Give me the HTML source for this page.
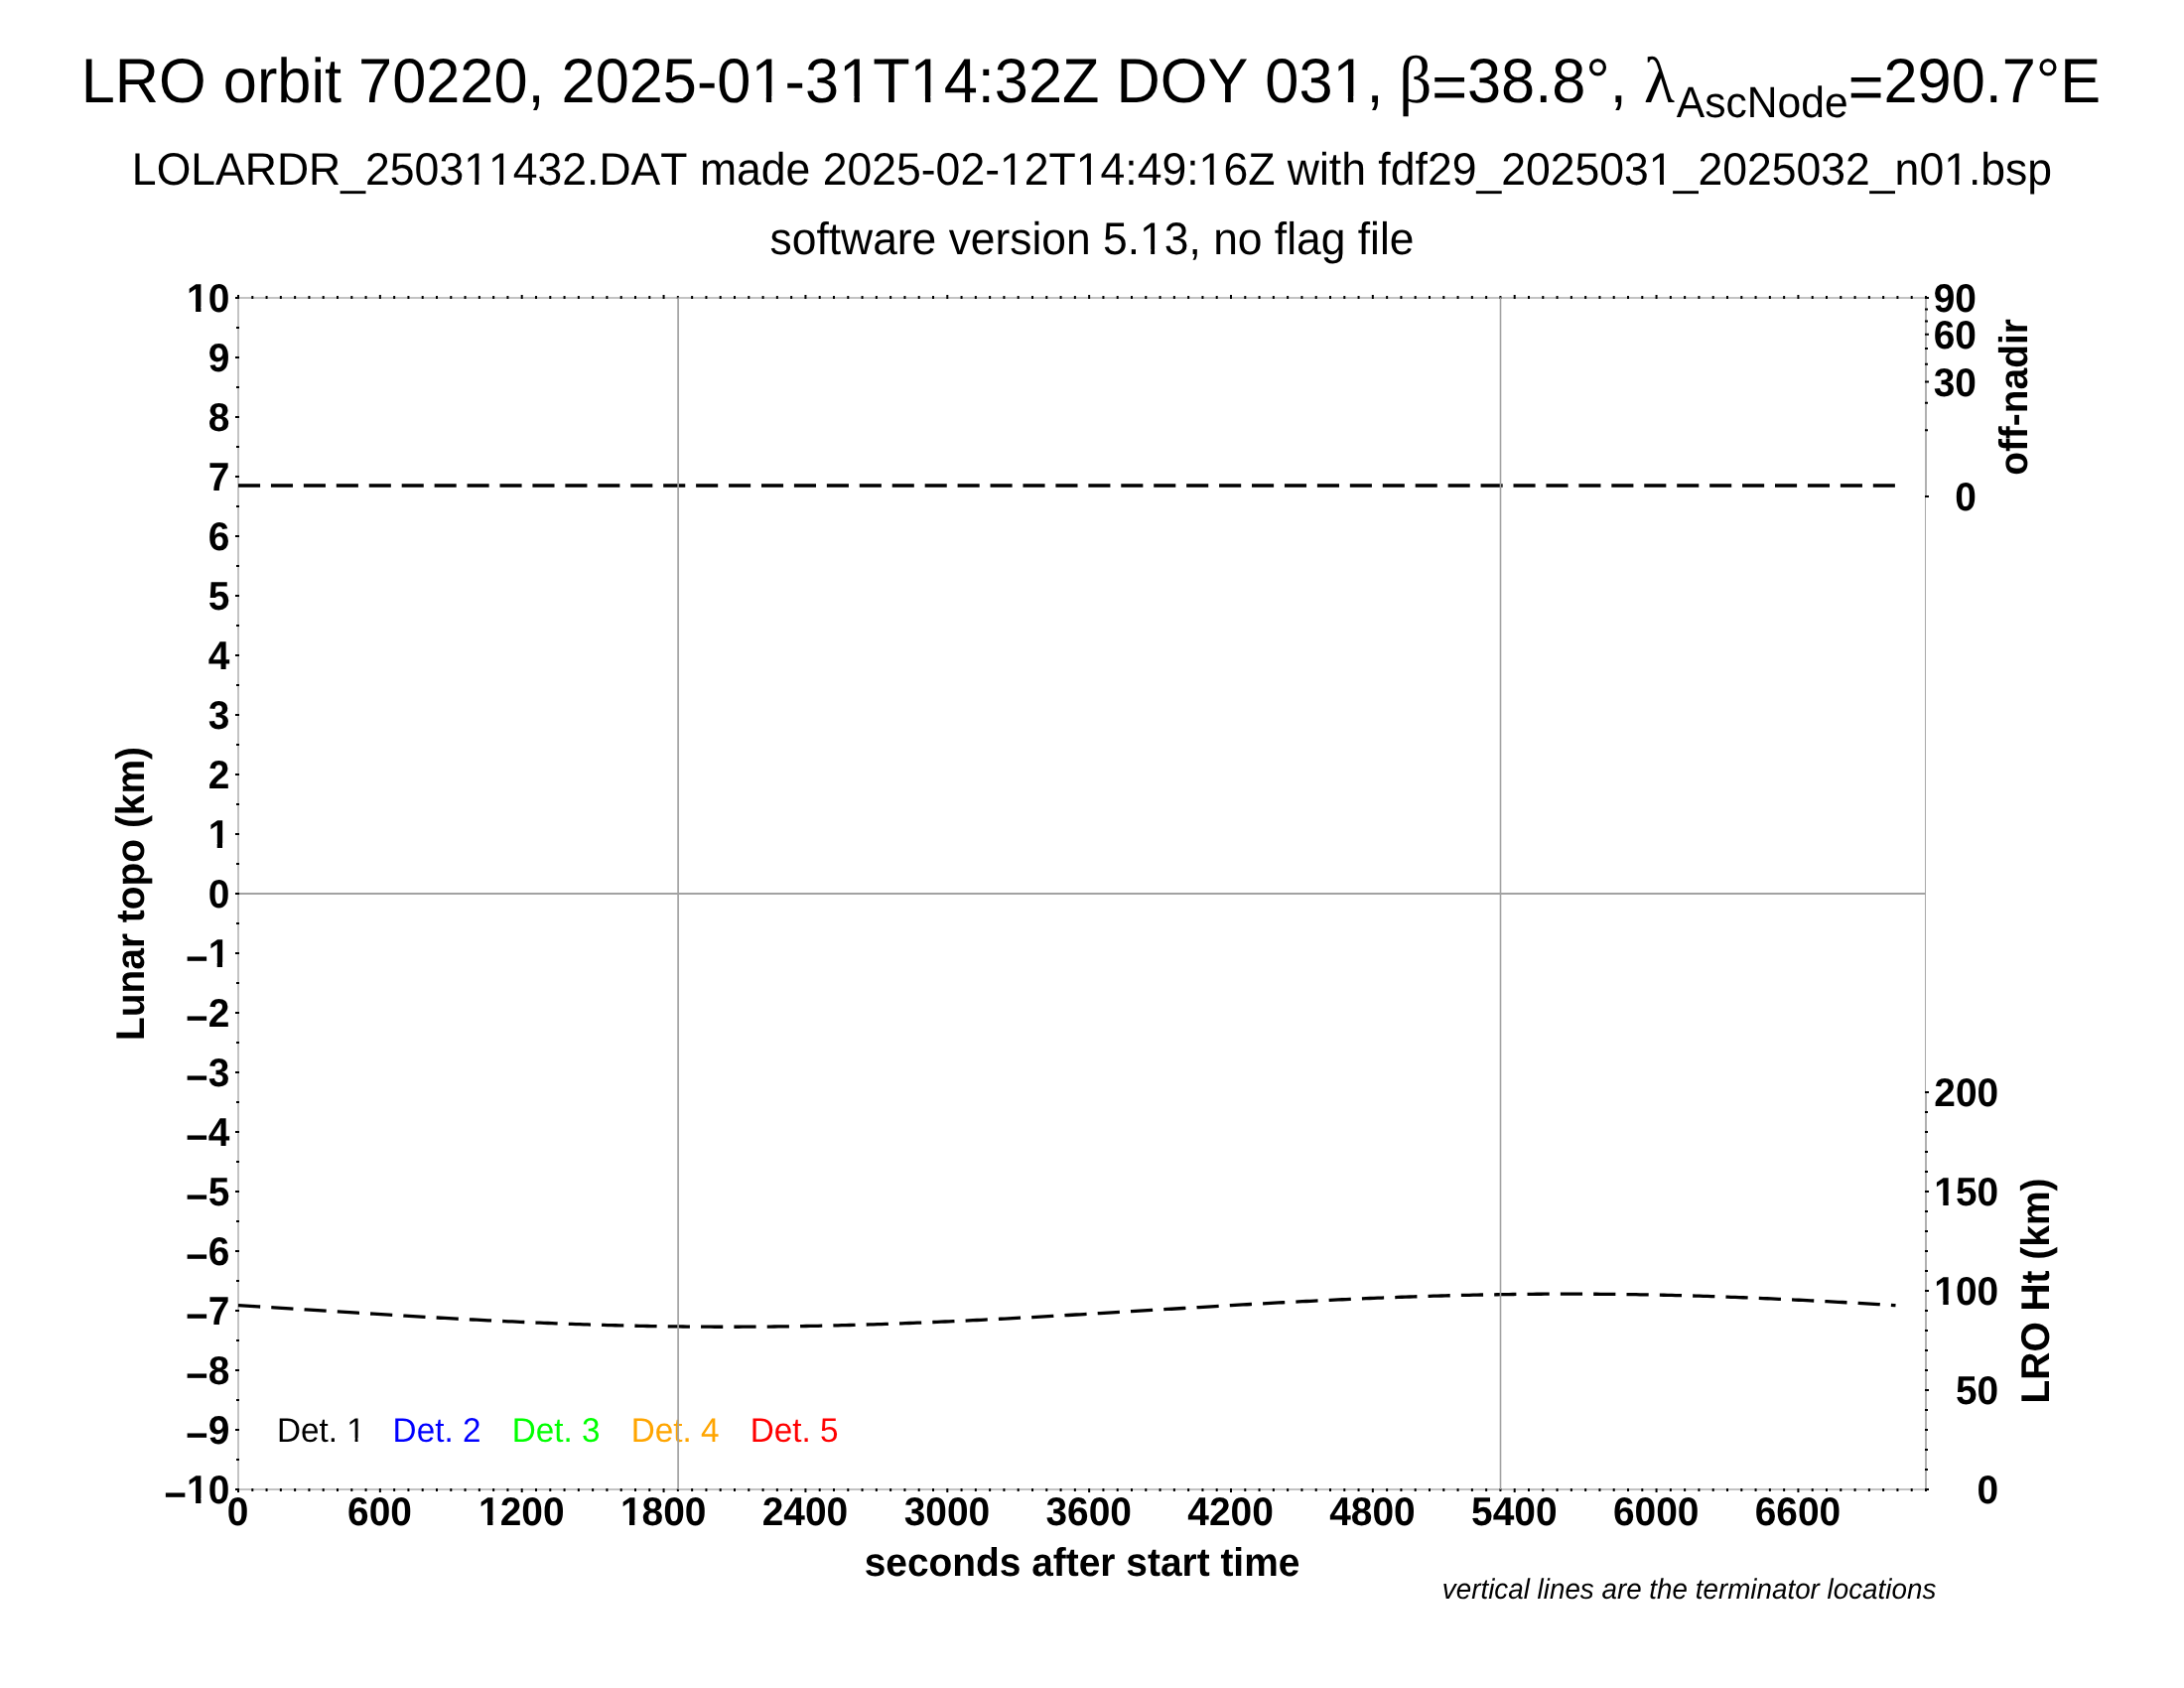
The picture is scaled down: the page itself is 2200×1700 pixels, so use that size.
<!DOCTYPE html>
<html><head><meta charset="utf-8"><title>LRO orbit 70220</title>
<style>
html,body{margin:0;padding:0;background:#fff;}
body{width:2200px;height:1700px;overflow:hidden;}
svg{display:block;will-change:transform;font-kerning:none;text-rendering:geometricPrecision;font-family:"Liberation Sans",sans-serif;fill:#000;}
</style></head><body>
<svg width="2200" height="1700" viewBox="0 0 2200 1700">
<rect width="2200" height="1700" fill="#fff"/>
<path d="M1939.5,299V1501" fill="none" stroke="#a8a8a8" stroke-width="1"/>
<path d="M1940,299V500M1940,1100V1501" fill="none" stroke="#b0b0b0" stroke-width="2"/>
<path d="M240,299V1501M239,300H1941M239,1500H1941" fill="none" stroke="#c3c3c3" stroke-width="2"/>
<path d="M240,489 L1909.5,489" fill="none" stroke="#000" stroke-width="3.4" stroke-dasharray="22.1 10.836"/>
<path d="M240.0,1314.66 L244.0,1314.90 L248.0,1315.14 L252.0,1315.39 L256.0,1315.63 L260.0,1315.88 L264.0,1316.13 L268.0,1316.38 L272.0,1316.63 L276.0,1316.88 L280.0,1317.13 L284.0,1317.38 L288.0,1317.63 L292.0,1317.88 L296.0,1318.14 L300.0,1318.39 L304.0,1318.64 L308.0,1318.90 L312.0,1319.15 L316.0,1319.41 L320.0,1319.66 L324.0,1319.91 L328.0,1320.17 L332.0,1320.42 L336.0,1320.68 L340.0,1320.93 L344.0,1321.18 L348.0,1321.44 L352.0,1321.69 L356.0,1321.94 L360.0,1322.19 L364.0,1322.44 L368.0,1322.69 L372.0,1322.94 L376.0,1323.19 L380.0,1323.44 L384.0,1323.69 L388.0,1323.93 L392.0,1324.18 L396.0,1324.42 L400.0,1324.67 L404.0,1324.91 L408.0,1325.15 L412.0,1325.39 L416.0,1325.62 L420.0,1325.86 L424.0,1326.10 L428.0,1326.33 L432.0,1326.56 L436.0,1326.79 L440.0,1327.02 L444.0,1327.25 L448.0,1327.47 L452.0,1327.69 L456.0,1327.91 L460.0,1328.13 L464.0,1328.35 L468.0,1328.57 L472.0,1328.78 L476.0,1328.99 L480.0,1329.20 L484.0,1329.40 L488.0,1329.61 L492.0,1329.81 L496.0,1330.01 L500.0,1330.21 L504.0,1330.40 L508.0,1330.59 L512.0,1330.78 L516.0,1330.97 L520.0,1331.15 L524.0,1331.33 L528.0,1331.51 L532.0,1331.69 L536.0,1331.86 L540.0,1332.03 L544.0,1332.20 L548.0,1332.36 L552.0,1332.52 L556.0,1332.68 L560.0,1332.83 L564.0,1332.99 L568.0,1333.13 L572.0,1333.28 L576.0,1333.42 L580.0,1333.56 L584.0,1333.70 L588.0,1333.83 L592.0,1333.96 L596.0,1334.09 L600.0,1334.21 L604.0,1334.33 L608.0,1334.44 L612.0,1334.56 L616.0,1334.66 L620.0,1334.77 L624.0,1334.87 L628.0,1334.97 L632.0,1335.07 L636.0,1335.16 L640.0,1335.24 L644.0,1335.33 L648.0,1335.41 L652.0,1335.49 L656.0,1335.56 L660.0,1335.63 L664.0,1335.69 L668.0,1335.76 L672.0,1335.82 L676.0,1335.87 L680.0,1335.92 L684.0,1335.97 L688.0,1336.01 L692.0,1336.05 L696.0,1336.09 L700.0,1336.12 L704.0,1336.15 L708.0,1336.17 L712.0,1336.20 L716.0,1336.21 L720.0,1336.23 L724.0,1336.24 L728.0,1336.24 L732.0,1336.25 L736.0,1336.24 L740.0,1336.24 L744.0,1336.23 L748.0,1336.22 L752.0,1336.20 L756.0,1336.18 L760.0,1336.16 L764.0,1336.13 L768.0,1336.10 L772.0,1336.06 L776.0,1336.03 L780.0,1335.98 L784.0,1335.94 L788.0,1335.89 L792.0,1335.83 L796.0,1335.78 L800.0,1335.72 L804.0,1335.65 L808.0,1335.59 L812.0,1335.52 L816.0,1335.44 L820.0,1335.36 L824.0,1335.28 L828.0,1335.20 L832.0,1335.11 L836.0,1335.02 L840.0,1334.92 L844.0,1334.82 L848.0,1334.72 L852.0,1334.62 L856.0,1334.51 L860.0,1334.40 L864.0,1334.28 L868.0,1334.16 L872.0,1334.04 L876.0,1333.92 L880.0,1333.79 L884.0,1333.66 L888.0,1333.53 L892.0,1333.39 L896.0,1333.25 L900.0,1333.11 L904.0,1332.96 L908.0,1332.81 L912.0,1332.66 L916.0,1332.51 L920.0,1332.35 L924.0,1332.19 L928.0,1332.03 L932.0,1331.86 L936.0,1331.69 L940.0,1331.52 L944.0,1331.35 L948.0,1331.18 L952.0,1331.00 L956.0,1330.82 L960.0,1330.64 L964.0,1330.45 L968.0,1330.26 L972.0,1330.07 L976.0,1329.88 L980.0,1329.69 L984.0,1329.49 L988.0,1329.29 L992.0,1329.09 L996.0,1328.89 L1000.0,1328.69 L1004.0,1328.48 L1008.0,1328.27 L1012.0,1328.06 L1016.0,1327.85 L1020.0,1327.64 L1024.0,1327.42 L1028.0,1327.20 L1032.0,1326.99 L1036.0,1326.77 L1040.0,1326.54 L1044.0,1326.32 L1048.0,1326.10 L1052.0,1325.87 L1056.0,1325.64 L1060.0,1325.42 L1064.0,1325.19 L1068.0,1324.96 L1072.0,1324.72 L1076.0,1324.49 L1080.0,1324.26 L1084.0,1324.02 L1088.0,1323.79 L1092.0,1323.55 L1096.0,1323.31 L1100.0,1323.07 L1104.0,1322.83 L1108.0,1322.59 L1112.0,1322.35 L1116.0,1322.11 L1120.0,1321.87 L1124.0,1321.63 L1128.0,1321.39 L1132.0,1321.15 L1136.0,1320.90 L1140.0,1320.66 L1144.0,1320.42 L1148.0,1320.17 L1152.0,1319.93 L1156.0,1319.69 L1160.0,1319.44 L1164.0,1319.20 L1168.0,1318.95 L1172.0,1318.71 L1176.0,1318.47 L1180.0,1318.23 L1184.0,1317.98 L1188.0,1317.74 L1192.0,1317.50 L1196.0,1317.26 L1200.0,1317.02 L1204.0,1316.78 L1208.0,1316.54 L1212.0,1316.30 L1216.0,1316.06 L1220.0,1315.82 L1224.0,1315.59 L1228.0,1315.35 L1232.0,1315.11 L1236.0,1314.88 L1240.0,1314.65 L1244.0,1314.42 L1248.0,1314.19 L1252.0,1313.96 L1256.0,1313.73 L1260.0,1313.50 L1264.0,1313.28 L1268.0,1313.05 L1272.0,1312.83 L1276.0,1312.61 L1280.0,1312.39 L1284.0,1312.17 L1288.0,1311.95 L1292.0,1311.74 L1296.0,1311.52 L1300.0,1311.31 L1304.0,1311.10 L1308.0,1310.89 L1312.0,1310.69 L1316.0,1310.48 L1320.0,1310.28 L1324.0,1310.08 L1328.0,1309.88 L1332.0,1309.69 L1336.0,1309.49 L1340.0,1309.30 L1344.0,1309.11 L1348.0,1308.92 L1352.0,1308.74 L1356.0,1308.56 L1360.0,1308.38 L1364.0,1308.20 L1368.0,1308.02 L1372.0,1307.85 L1376.0,1307.68 L1380.0,1307.51 L1384.0,1307.35 L1388.0,1307.19 L1392.0,1307.03 L1396.0,1306.87 L1400.0,1306.72 L1404.0,1306.57 L1408.0,1306.42 L1412.0,1306.27 L1416.0,1306.13 L1420.0,1305.99 L1424.0,1305.85 L1428.0,1305.72 L1432.0,1305.59 L1436.0,1305.46 L1440.0,1305.34 L1444.0,1305.22 L1448.0,1305.10 L1452.0,1304.99 L1456.0,1304.87 L1460.0,1304.77 L1464.0,1304.66 L1468.0,1304.56 L1472.0,1304.46 L1476.0,1304.37 L1480.0,1304.28 L1484.0,1304.19 L1488.0,1304.10 L1492.0,1304.02 L1496.0,1303.95 L1500.0,1303.87 L1504.0,1303.80 L1508.0,1303.73 L1512.0,1303.67 L1516.0,1303.61 L1520.0,1303.55 L1524.0,1303.50 L1528.0,1303.45 L1532.0,1303.41 L1536.0,1303.37 L1540.0,1303.33 L1544.0,1303.29 L1548.0,1303.26 L1552.0,1303.24 L1556.0,1303.21 L1560.0,1303.19 L1564.0,1303.18 L1568.0,1303.17 L1572.0,1303.16 L1576.0,1303.15 L1580.0,1303.15 L1584.0,1303.15 L1588.0,1303.16 L1592.0,1303.17 L1596.0,1303.19 L1600.0,1303.20 L1604.0,1303.23 L1608.0,1303.25 L1612.0,1303.28 L1616.0,1303.31 L1620.0,1303.35 L1624.0,1303.39 L1628.0,1303.44 L1632.0,1303.48 L1636.0,1303.54 L1640.0,1303.59 L1644.0,1303.65 L1648.0,1303.71 L1652.0,1303.78 L1656.0,1303.85 L1660.0,1303.92 L1664.0,1304.00 L1668.0,1304.08 L1672.0,1304.17 L1676.0,1304.26 L1680.0,1304.35 L1684.0,1304.44 L1688.0,1304.54 L1692.0,1304.64 L1696.0,1304.75 L1700.0,1304.86 L1704.0,1304.97 L1708.0,1305.09 L1712.0,1305.21 L1716.0,1305.33 L1720.0,1305.46 L1724.0,1305.59 L1728.0,1305.72 L1732.0,1305.86 L1736.0,1306.00 L1740.0,1306.14 L1744.0,1306.29 L1748.0,1306.44 L1752.0,1306.59 L1756.0,1306.75 L1760.0,1306.90 L1764.0,1307.07 L1768.0,1307.23 L1772.0,1307.40 L1776.0,1307.57 L1780.0,1307.74 L1784.0,1307.92 L1788.0,1308.10 L1792.0,1308.28 L1796.0,1308.46 L1800.0,1308.65 L1804.0,1308.84 L1808.0,1309.03 L1812.0,1309.23 L1816.0,1309.42 L1820.0,1309.62 L1824.0,1309.83 L1828.0,1310.03 L1832.0,1310.24 L1836.0,1310.45 L1840.0,1310.66 L1844.0,1310.87 L1848.0,1311.09 L1852.0,1311.30 L1856.0,1311.52 L1860.0,1311.75 L1864.0,1311.97 L1868.0,1312.19 L1872.0,1312.42 L1876.0,1312.65 L1880.0,1312.88 L1884.0,1313.11 L1888.0,1313.35 L1892.0,1313.58 L1896.0,1313.82 L1900.0,1314.06 L1904.0,1314.30 L1908.0,1314.54 L1909.5,1314.63" fill="none" stroke="#000" stroke-width="3.3" stroke-dasharray="22.22 11.11"/>
<text transform="translate(278.9,1451.8) scale(1,1.03)" font-size="33.3" fill="#000000">Det. 1</text>
<path d="M71.71,-3.43h6.96v4.23h-6.96zM81.61,-3.43h6.80v4.23h-6.80z" fill="#fff" transform="translate(278.9,1451.8) scale(1,1.03)"/>
<text transform="translate(395.6,1451.8) scale(1,1.03)" font-size="33.3" fill="#0000ff">Det. 2</text>
<text transform="translate(515.7,1451.8) scale(1,1.03)" font-size="33.3" fill="#00ff00">Det. 3</text>
<text transform="translate(635.7,1451.8) scale(1,1.03)" font-size="33.3" fill="#ffa500">Det. 4</text>
<text transform="translate(755.8,1451.8) scale(1,1.03)" font-size="33.3" fill="#ff0000">Det. 5</text>
<path d="M240.00,1499.0v4M240.00,301.0v-4M254.29,1499.0v3M254.29,301.0v-3M268.57,1499.0v3M268.57,301.0v-3M282.86,1499.0v3M282.86,301.0v-3M297.14,1499.0v3M297.14,301.0v-3M311.43,1499.0v3M311.43,301.0v-3M325.71,1499.0v3M325.71,301.0v-3M340.00,1499.0v3M340.00,301.0v-3M354.29,1499.0v3M354.29,301.0v-3M368.57,1499.0v3M368.57,301.0v-3M382.86,1499.0v4M382.86,301.0v-4M397.14,1499.0v3M397.14,301.0v-3M411.43,1499.0v3M411.43,301.0v-3M425.71,1499.0v3M425.71,301.0v-3M440.00,1499.0v3M440.00,301.0v-3M454.29,1499.0v3M454.29,301.0v-3M468.57,1499.0v3M468.57,301.0v-3M482.86,1499.0v3M482.86,301.0v-3M497.14,1499.0v3M497.14,301.0v-3M511.43,1499.0v3M511.43,301.0v-3M525.71,1499.0v4M525.71,301.0v-4M540.00,1499.0v3M540.00,301.0v-3M554.29,1499.0v3M554.29,301.0v-3M568.57,1499.0v3M568.57,301.0v-3M582.86,1499.0v3M582.86,301.0v-3M597.14,1499.0v3M597.14,301.0v-3M611.43,1499.0v3M611.43,301.0v-3M625.71,1499.0v3M625.71,301.0v-3M640.00,1499.0v3M640.00,301.0v-3M654.29,1499.0v3M654.29,301.0v-3M668.57,1499.0v4M668.57,301.0v-4M682.86,1499.0v3M682.86,301.0v-3M697.14,1499.0v3M697.14,301.0v-3M711.43,1499.0v3M711.43,301.0v-3M725.71,1499.0v3M725.71,301.0v-3M740.00,1499.0v3M740.00,301.0v-3M754.29,1499.0v3M754.29,301.0v-3M768.57,1499.0v3M768.57,301.0v-3M782.86,1499.0v3M782.86,301.0v-3M797.14,1499.0v3M797.14,301.0v-3M811.43,1499.0v4M811.43,301.0v-4M825.71,1499.0v3M825.71,301.0v-3M840.00,1499.0v3M840.00,301.0v-3M854.29,1499.0v3M854.29,301.0v-3M868.57,1499.0v3M868.57,301.0v-3M882.86,1499.0v3M882.86,301.0v-3M897.14,1499.0v3M897.14,301.0v-3M911.43,1499.0v3M911.43,301.0v-3M925.71,1499.0v3M925.71,301.0v-3M940.00,1499.0v3M940.00,301.0v-3M954.29,1499.0v4M954.29,301.0v-4M968.57,1499.0v3M968.57,301.0v-3M982.86,1499.0v3M982.86,301.0v-3M997.14,1499.0v3M997.14,301.0v-3M1011.43,1499.0v3M1011.43,301.0v-3M1025.71,1499.0v3M1025.71,301.0v-3M1040.00,1499.0v3M1040.00,301.0v-3M1054.29,1499.0v3M1054.29,301.0v-3M1068.57,1499.0v3M1068.57,301.0v-3M1082.86,1499.0v3M1082.86,301.0v-3M1097.14,1499.0v4M1097.14,301.0v-4M1111.43,1499.0v3M1111.43,301.0v-3M1125.71,1499.0v3M1125.71,301.0v-3M1140.00,1499.0v3M1140.00,301.0v-3M1154.29,1499.0v3M1154.29,301.0v-3M1168.57,1499.0v3M1168.57,301.0v-3M1182.86,1499.0v3M1182.86,301.0v-3M1197.14,1499.0v3M1197.14,301.0v-3M1211.43,1499.0v3M1211.43,301.0v-3M1225.71,1499.0v3M1225.71,301.0v-3M1240.00,1499.0v4M1240.00,301.0v-4M1254.29,1499.0v3M1254.29,301.0v-3M1268.57,1499.0v3M1268.57,301.0v-3M1282.86,1499.0v3M1282.86,301.0v-3M1297.14,1499.0v3M1297.14,301.0v-3M1311.43,1499.0v3M1311.43,301.0v-3M1325.71,1499.0v3M1325.71,301.0v-3M1340.00,1499.0v3M1340.00,301.0v-3M1354.29,1499.0v3M1354.29,301.0v-3M1368.57,1499.0v3M1368.57,301.0v-3M1382.86,1499.0v4M1382.86,301.0v-4M1397.14,1499.0v3M1397.14,301.0v-3M1411.43,1499.0v3M1411.43,301.0v-3M1425.71,1499.0v3M1425.71,301.0v-3M1440.00,1499.0v3M1440.00,301.0v-3M1454.29,1499.0v3M1454.29,301.0v-3M1468.57,1499.0v3M1468.57,301.0v-3M1482.86,1499.0v3M1482.86,301.0v-3M1497.14,1499.0v3M1497.14,301.0v-3M1511.43,1499.0v3M1511.43,301.0v-3M1525.71,1499.0v4M1525.71,301.0v-4M1540.00,1499.0v3M1540.00,301.0v-3M1554.29,1499.0v3M1554.29,301.0v-3M1568.57,1499.0v3M1568.57,301.0v-3M1582.86,1499.0v3M1582.86,301.0v-3M1597.14,1499.0v3M1597.14,301.0v-3M1611.43,1499.0v3M1611.43,301.0v-3M1625.71,1499.0v3M1625.71,301.0v-3M1640.00,1499.0v3M1640.00,301.0v-3M1654.29,1499.0v3M1654.29,301.0v-3M1668.57,1499.0v4M1668.57,301.0v-4M1682.86,1499.0v3M1682.86,301.0v-3M1697.14,1499.0v3M1697.14,301.0v-3M1711.43,1499.0v3M1711.43,301.0v-3M1725.71,1499.0v3M1725.71,301.0v-3M1740.00,1499.0v3M1740.00,301.0v-3M1754.29,1499.0v3M1754.29,301.0v-3M1768.57,1499.0v3M1768.57,301.0v-3M1782.86,1499.0v3M1782.86,301.0v-3M1797.14,1499.0v3M1797.14,301.0v-3M1811.43,1499.0v4M1811.43,301.0v-4M1825.71,1499.0v3M1825.71,301.0v-3M1840.00,1499.0v3M1840.00,301.0v-3M1854.29,1499.0v3M1854.29,301.0v-3M1868.57,1499.0v3M1868.57,301.0v-3M1882.86,1499.0v3M1882.86,301.0v-3M1897.14,1499.0v3M1897.14,301.0v-3M1911.43,1499.0v3M1911.43,301.0v-3M1925.71,1499.0v3M1925.71,301.0v-3M1940.00,1499.0v3M1940.00,301.0v-3M241.0,300.0h-4M241.0,330.0h-3M241.0,360.0h-4M241.0,390.0h-3M241.0,420.0h-4M241.0,450.0h-3M241.0,480.0h-4M241.0,510.0h-3M241.0,540.0h-4M241.0,570.0h-3M241.0,600.0h-4M241.0,630.0h-3M241.0,660.0h-4M241.0,690.0h-3M241.0,720.0h-4M241.0,750.0h-3M241.0,780.0h-4M241.0,810.0h-3M241.0,840.0h-4M241.0,870.0h-3M241.0,900.0h-4M241.0,930.0h-3M241.0,960.0h-4M241.0,990.0h-3M241.0,1020.0h-4M241.0,1050.0h-3M241.0,1080.0h-4M241.0,1110.0h-3M241.0,1140.0h-4M241.0,1170.0h-3M241.0,1200.0h-4M241.0,1230.0h-3M241.0,1260.0h-4M241.0,1290.0h-3M241.0,1320.0h-4M241.0,1350.0h-3M241.0,1380.0h-4M241.0,1410.0h-3M241.0,1440.0h-4M241.0,1470.0h-3M241.0,1500.0h-4M1939.0,500.00h4M1939.0,433.33h3M1939.0,405.72h3M1939.0,384.53h4M1939.0,366.67h3M1939.0,350.93h3M1939.0,336.70h4M1939.0,323.62h3M1939.0,311.44h3M1939.0,300.00h4M1939.0,1500.00h4M1939.0,1480.00h3M1939.0,1460.00h3M1939.0,1440.00h3M1939.0,1420.00h3M1939.0,1400.00h4M1939.0,1380.00h3M1939.0,1360.00h3M1939.0,1340.00h3M1939.0,1320.00h3M1939.0,1300.00h4M1939.0,1280.00h3M1939.0,1260.00h3M1939.0,1240.00h3M1939.0,1220.00h3M1939.0,1200.00h4M1939.0,1180.00h3M1939.0,1160.00h3M1939.0,1140.00h3M1939.0,1120.00h3M1939.0,1100.00h4" stroke="#000" stroke-width="2" fill="none"/>
<g fill="none" stroke="#a2a2a2">
<path d="M241,900H1939.5" stroke-width="2"/>
<path d="M683.1,299.5V1500" stroke-width="1.7"/>
<path d="M1511.5,299.5V1500" stroke-width="1.6"/>
</g>
<text transform="translate(1099,103.0) scale(1,1.03)" font-size="61.3" text-anchor="middle">LRO orbit 70220, 2025-01-31T14:32Z DOY 031, <tspan font-family="Liberation Serif" font-size="65.0" dx="-1.5">β</tspan><tspan dy="5.6">=</tspan><tspan dy="-5.6">38.8°, </tspan><tspan font-family="Liberation Serif" font-size="63.8">λ</tspan><tspan font-size="42.6" dy="15.0" dx="2">AscNode</tspan><tspan dy="-9.4">=</tspan><tspan dy="-5.6">290.7°E</tspan></text>
<path d="M-339.48,-5.65h12.31v6.45h-12.31zM-321.77,-5.65h12.01v6.45h-12.01zM-250.89,-5.65h12.31v6.45h-12.31zM-233.18,-5.65h12.01v6.45h-12.01zM-179.36,-5.65h12.31v6.45h-12.31zM-161.65,-5.65h12.01v6.45h-12.01zM246.55,-5.65h12.31v6.45h-12.31zM264.26,-5.65h12.01v6.45h-12.01z" fill="#fff" transform="translate(1099,103.0) scale(1,1.03)"/>
<text transform="translate(1100,186.0) scale(1,1.03)" font-size="44.55" text-anchor="middle">LOLARDR_250311432.DAT made 2025-02-12T14:49:16Z with fdf29_2025031_2025032_n01.bsp</text>
<path d="M-630.77,-4.32h9.11v5.12h-9.11zM-617.74,-4.32h8.89v5.12h-8.89zM-606.00,-4.32h9.12v5.12h-9.12zM-592.96,-4.32h8.89v5.12h-8.89zM-90.93,-4.32h9.11v5.12h-9.11zM-77.89,-4.32h8.89v5.12h-8.89zM-14.16,-4.32h9.11v5.12h-9.11zM-1.13,-4.32h8.89v5.12h-8.89zM109.68,-4.32h9.12v5.12h-9.12zM122.72,-4.32h8.89v5.12h-8.89zM562.92,-4.32h9.12v5.12h-9.12zM575.96,-4.32h8.89v5.12h-8.89zM860.22,-4.32h9.12v5.12h-9.12zM873.26,-4.32h8.89v5.12h-8.89z" fill="#fff" transform="translate(1100,186.0) scale(1,1.03)"/>
<text transform="translate(1100,255.5) scale(1,1.03)" font-size="44.4" text-anchor="middle">software version 5.13, no flag file</text>
<path d="M50.14,-4.31h9.08v5.11h-9.08zM63.13,-4.31h8.86v5.11h-8.86z" fill="#fff" transform="translate(1100,255.5) scale(1,1.03)"/>
<g font-weight="bold" font-size="38.9">
<text transform="translate(231.3,314.3) scale(1,1.033)" text-anchor="end">10</text>
<path d="M-41.92,-5.00h7.72v5.80h-7.72zM-28.87,-5.00h7.41v5.80h-7.41z" fill="#fff" transform="translate(231.3,314.3) scale(1,1.033)"/>
<text transform="translate(231.3,374.3) scale(1,1.033)" text-anchor="end">9</text>
<text transform="translate(231.3,434.3) scale(1,1.033)" text-anchor="end">8</text>
<text transform="translate(231.3,494.3) scale(1,1.033)" text-anchor="end">7</text>
<text transform="translate(231.3,554.3) scale(1,1.033)" text-anchor="end">6</text>
<text transform="translate(231.3,614.3) scale(1,1.033)" text-anchor="end">5</text>
<text transform="translate(231.3,674.3) scale(1,1.033)" text-anchor="end">4</text>
<text transform="translate(231.3,734.3) scale(1,1.033)" text-anchor="end">3</text>
<text transform="translate(231.3,794.3) scale(1,1.033)" text-anchor="end">2</text>
<text transform="translate(231.3,854.3) scale(1,1.033)" text-anchor="end">1</text>
<path d="M-20.30,-5.00h7.72v5.80h-7.72zM-7.24,-5.00h7.41v5.80h-7.41z" fill="#fff" transform="translate(231.3,854.3) scale(1,1.033)"/>
<text transform="translate(231.3,914.3) scale(1,1.033)" text-anchor="end">0</text>
<text transform="translate(231.3,974.3) scale(1,1.033)" text-anchor="end"><tspan dy="4.2">−</tspan><tspan dy="-4.2">1</tspan></text>
<path d="M-20.30,-5.00h7.72v5.80h-7.72zM-7.24,-5.00h7.41v5.80h-7.41z" fill="#fff" transform="translate(231.3,974.3) scale(1,1.033)"/>
<text transform="translate(231.3,1034.3) scale(1,1.033)" text-anchor="end"><tspan dy="4.2">−</tspan><tspan dy="-4.2">2</tspan></text>
<text transform="translate(231.3,1094.3) scale(1,1.033)" text-anchor="end"><tspan dy="4.2">−</tspan><tspan dy="-4.2">3</tspan></text>
<text transform="translate(231.3,1154.3) scale(1,1.033)" text-anchor="end"><tspan dy="4.2">−</tspan><tspan dy="-4.2">4</tspan></text>
<text transform="translate(231.3,1214.3) scale(1,1.033)" text-anchor="end"><tspan dy="4.2">−</tspan><tspan dy="-4.2">5</tspan></text>
<text transform="translate(231.3,1274.3) scale(1,1.033)" text-anchor="end"><tspan dy="4.2">−</tspan><tspan dy="-4.2">6</tspan></text>
<text transform="translate(231.3,1334.3) scale(1,1.033)" text-anchor="end"><tspan dy="4.2">−</tspan><tspan dy="-4.2">7</tspan></text>
<text transform="translate(231.3,1394.3) scale(1,1.033)" text-anchor="end"><tspan dy="4.2">−</tspan><tspan dy="-4.2">8</tspan></text>
<text transform="translate(231.3,1454.3) scale(1,1.033)" text-anchor="end"><tspan dy="4.2">−</tspan><tspan dy="-4.2">9</tspan></text>
<text transform="translate(231.3,1514.3) scale(1,1.033)" text-anchor="end"><tspan dy="4.2">−</tspan><tspan dy="-4.2">10</tspan></text>
<path d="M-41.92,-5.00h7.72v5.80h-7.72zM-28.87,-5.00h7.41v5.80h-7.41z" fill="#fff" transform="translate(231.3,1514.3) scale(1,1.033)"/>
<text transform="translate(239.6,1536.4) scale(1,1.033)" text-anchor="middle">0</text>
<text transform="translate(382.5,1536.4) scale(1,1.033)" text-anchor="middle">600</text>
<text transform="translate(525.3,1536.4) scale(1,1.033)" text-anchor="middle">1200</text>
<path d="M-41.92,-5.00h7.72v5.80h-7.72zM-28.87,-5.00h7.41v5.80h-7.41z" fill="#fff" transform="translate(525.3,1536.4) scale(1,1.033)"/>
<text transform="translate(668.2,1536.4) scale(1,1.033)" text-anchor="middle">1800</text>
<path d="M-41.92,-5.00h7.72v5.80h-7.72zM-28.87,-5.00h7.41v5.80h-7.41z" fill="#fff" transform="translate(668.2,1536.4) scale(1,1.033)"/>
<text transform="translate(811.0,1536.4) scale(1,1.033)" text-anchor="middle">2400</text>
<text transform="translate(953.9,1536.4) scale(1,1.033)" text-anchor="middle">3000</text>
<text transform="translate(1096.7,1536.4) scale(1,1.033)" text-anchor="middle">3600</text>
<text transform="translate(1239.6,1536.4) scale(1,1.033)" text-anchor="middle">4200</text>
<text transform="translate(1382.5,1536.4) scale(1,1.033)" text-anchor="middle">4800</text>
<text transform="translate(1525.3,1536.4) scale(1,1.033)" text-anchor="middle">5400</text>
<text transform="translate(1668.2,1536.4) scale(1,1.033)" text-anchor="middle">6000</text>
<text transform="translate(1811.0,1536.4) scale(1,1.033)" text-anchor="middle">6600</text>
<text transform="translate(1991.0,514.3) scale(1,1.033)" text-anchor="end">0</text>
<text transform="translate(1991.0,398.8) scale(1,1.033)" text-anchor="end">30</text>
<text transform="translate(1991.0,351.0) scale(1,1.033)" text-anchor="end">60</text>
<text transform="translate(1991.0,314.3) scale(1,1.033)" text-anchor="end">90</text>
<text transform="translate(2013.2,1514.3) scale(1,1.033)" text-anchor="end">0</text>
<text transform="translate(2013.2,1414.3) scale(1,1.033)" text-anchor="end">50</text>
<text transform="translate(2013.2,1314.3) scale(1,1.033)" text-anchor="end">100</text>
<path d="M-63.55,-5.00h7.72v5.80h-7.72zM-50.49,-5.00h7.41v5.80h-7.41z" fill="#fff" transform="translate(2013.2,1314.3) scale(1,1.033)"/>
<text transform="translate(2013.2,1214.3) scale(1,1.033)" text-anchor="end">150</text>
<path d="M-63.55,-5.00h7.72v5.80h-7.72zM-50.49,-5.00h7.41v5.80h-7.41z" fill="#fff" transform="translate(2013.2,1214.3) scale(1,1.033)"/>
<text transform="translate(2013.2,1114.3) scale(1,1.033)" text-anchor="end">200</text>
<text transform="translate(1090,1586.6) scale(1,1.033)" text-anchor="middle">seconds after start time</text>
<text transform="translate(144.6,900) rotate(-90) scale(1,1.033)" text-anchor="middle">Lunar topo (km)</text>
<text transform="translate(2042,400) rotate(-90) scale(1,1.033)" text-anchor="middle">off-nadir</text>
<text transform="translate(2064,1300) rotate(-90) scale(1,1.033)" text-anchor="middle">LRO Ht (km)</text>
</g>
<text transform="translate(1950.3,1609.6) scale(1,1.03)" font-size="27.8" font-style="italic" text-anchor="end">vertical lines are the terminator locations</text>
</svg>
</body></html>
